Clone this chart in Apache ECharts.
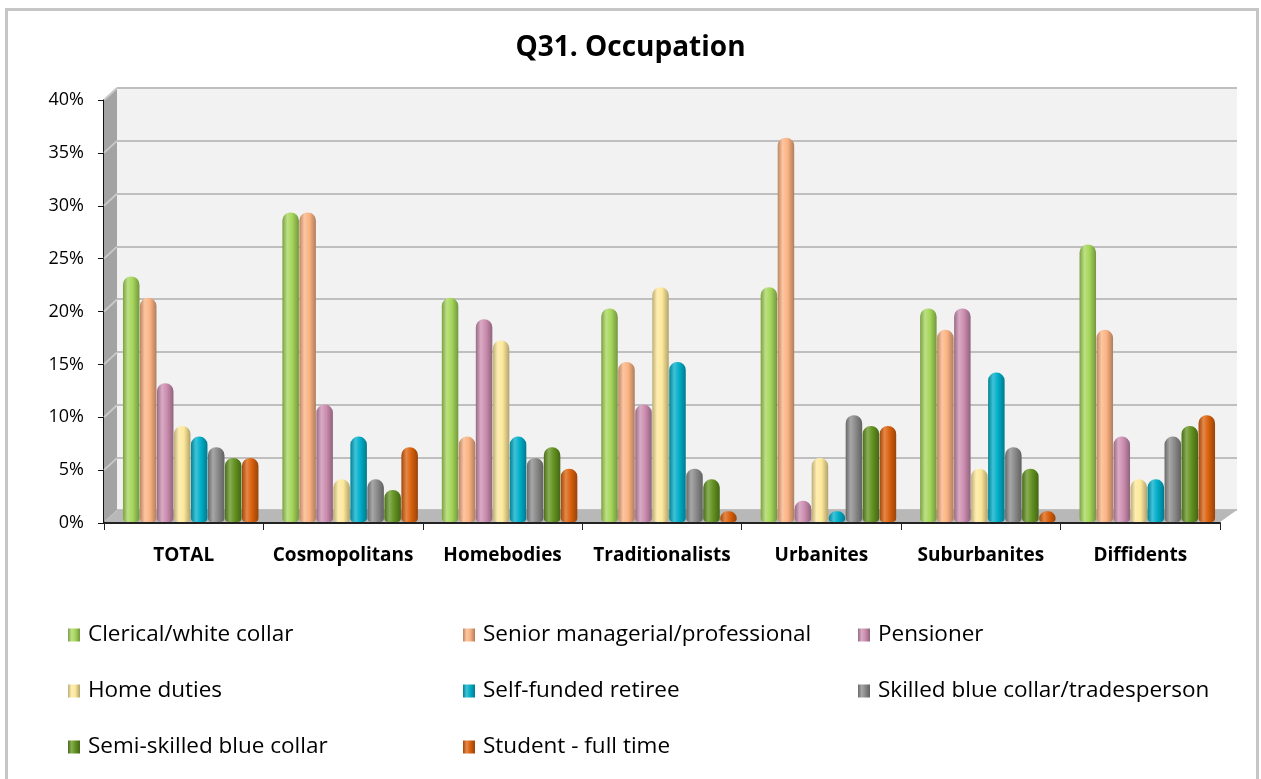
<!DOCTYPE html>
<html>
<head>
<meta charset="utf-8">
<script src="https://cdn.jsdelivr.net/npm/echarts@6/dist/echarts.min.js"></script>
<style>
  html, body { margin: 0; padding: 0; background: #fff; }
  #chart { width: 1261px; height: 779px; }
</style>
</head>
<body>
<div id="chart"></div>
<script>
var categories = ['TOTAL', 'Cosmopolitans', 'Homebodies', 'Traditionalists', 'Urbanites', 'Suburbanites', 'Diffidents'];
var seriesNames = ['Clerical/white collar', 'Senior managerial/professional', 'Pensioner',
  'Home duties', 'Self-funded retiree', 'Skilled blue collar/tradesperson',
  'Semi-skilled blue collar', 'Student - full time'];
var clerical = [23, 29, 21, 20, 22, 20, 26];
var senior = [21, 29, 8, 15, 36, 18, 18];
var pensioner = [13, 11, 19, 11, 2, 20, 8];
var homeDuties = [9, 4, 17, 22, 6, 5, 4];
var selfFunded = [8, 8, 8, 15, 1, 14, 4];
var skilled = [7, 4, 6, 5, 10, 7, 8];
var semiSkilled = [6, 3, 7, 4, 9, 5, 9];
var student = [6, 7, 5, 1, 9, 1, 10];
var yTicks = [0, 5, 10, 15, 20, 25, 30, 35, 40];

var values = [clerical, senior, pensioner, homeDuties, selfFunded, skilled, semiSkilled, student];
var colors = ['#a5d65a', '#fbb383', '#cc8db0', '#fde89a', '#00aec9', '#8a8a8a', '#62921f', '#d9600c'];

var font = '"Open Sans", "Noto Sans", sans-serif';

function mix(hex, target, t) {
  var r = parseInt(hex.substr(1, 2), 16), g = parseInt(hex.substr(3, 2), 16), b = parseInt(hex.substr(5, 2), 16);
  r = Math.round(r + (target - r) * t);
  g = Math.round(g + (target - g) * t);
  b = Math.round(b + (target - b) * t);
  return 'rgb(' + r + ',' + g + ',' + b + ')';
}

function barColor(c) {
  return new echarts.graphic.LinearGradient(0, 0, 1, 0, [
    { offset: 0, color: mix(c, 0, 0.25) },
    { offset: 0.3, color: mix(c, 255, 0.25) },
    { offset: 0.6, color: c },
    { offset: 1, color: mix(c, 0, 0.3) }
  ]);
}

var myChart = echarts.init(document.getElementById('chart'));

var series = seriesNames.map(function (name, i) {
  return {
    name: name,
    type: 'bar',
    xAxisIndex: 2,
    yAxisIndex: 2,
    barGap: '3%',
    barCategoryGap: '15%',
    itemStyle: {
      color: barColor(colors[i]),
      borderRadius: [8, 8, 4, 4]
    },
    data: values[i]
  };
});

var legendText = { fontFamily: font, fontSize: 22.5, color: '#000', lineHeight: 26, padding: [0, 0, 0, 3] };
function legendCol(left, names) {
  return {
    orient: 'vertical',
    left: left,
    top: 617,
    itemWidth: 12,
    itemHeight: 13,
    itemGap: 30,
    icon: 'rect',
    textStyle: legendText,
    data: names
  };
}

var option = {
  backgroundColor: '#fff',
  animation: false,
  title: {
    text: 'Q31. Occupation',
    left: 'center',
    top: 29,
    textStyle: { fontFamily: font, fontSize: 28, fontWeight: 'bold', color: '#000' }
  },
  legend: [
    legendCol(63, [seriesNames[0], seriesNames[3], seriesNames[6]]),
    legendCol(458, [seriesNames[1], seriesNames[4], seriesNames[7]]),
    legendCol(853, [seriesNames[2], seriesNames[5]])
  ],
  grid: [
    { left: 104, top: 100, width: 1116, height: 423 },
    { left: 117, top: 88, width: 1120, height: 422, show: true, backgroundColor: '#f2f2f2', borderWidth: 0 },
    { left: 111, top: 95, width: 1116, height: 427 }
  ],
  xAxis: [
    {
      type: 'category', gridIndex: 0, data: categories,
      axisLine: { lineStyle: { color: '#222', width: 2 } },
      axisTick: { show: true, length: 7, lineStyle: { color: '#222' } },
      axisLabel: { interval: 0, hideOverlap: false, margin: 23, fontFamily: font, fontSize: 19, fontWeight: 'bold', color: '#000' }
    },
    { type: 'category', gridIndex: 1, data: categories, show: false },
    { type: 'category', gridIndex: 2, data: categories, show: false }
  ],
  yAxis: [
    {
      type: 'value', gridIndex: 0, min: 0, max: 40, interval: 5,
      axisLine: { show: true, lineStyle: { color: '#111', width: 2 } },
      axisTick: { show: true, length: 6, lineStyle: { color: '#111' } },
      splitLine: { show: false },
      axisLabel: { margin: 20, formatter: '{value}%', fontFamily: font, fontSize: 18, color: '#000' }
    },
    {
      type: 'value', gridIndex: 1, min: 0, max: 40, interval: 5,
      axisLine: { show: false }, axisTick: { show: false }, axisLabel: { show: false },
      splitLine: { lineStyle: { color: '#bfbfbf', width: 2 } }
    },
    { type: 'value', gridIndex: 2, min: 0, max: 40, interval: 5, show: false, splitLine: { show: false } }
  ],
  series: series
};

myChart.setOption(option);

// side wall, floor and outer border
var graphics = [
  {
    type: 'polygon', z: 1, silent: true,
    shape: { points: [[104, 100], [117, 88], [117, 510], [104, 522]] },
    style: { fill: '#a3a3a3' }
  },
  {
    type: 'polygon', z: 1, silent: true,
    shape: { points: [[104, 522], [117, 510], [1237, 510], [1220, 522]] },
    style: { fill: '#b8b8b8' }
  },
  {
    type: 'rect', z: 10, silent: true,
    shape: { x: 6.5, y: 9.5, width: 1251, height: 800 },
    style: { fill: 'none', stroke: '#c6c6c6', lineWidth: 3 }
  }
];
yTicks.forEach(function (v) {
  if (v === 0) return;
  var y = myChart.convertToPixel({ yAxisIndex: 0 }, v);
  graphics.push({
    type: 'line', z: 1, silent: true,
    shape: { x1: 104, y1: y, x2: 117, y2: y - 12 },
    style: { stroke: '#c8c8c8', lineWidth: 2 }
  });
});
myChart.setOption({ graphic: graphics });
</script>
</body>
</html>
